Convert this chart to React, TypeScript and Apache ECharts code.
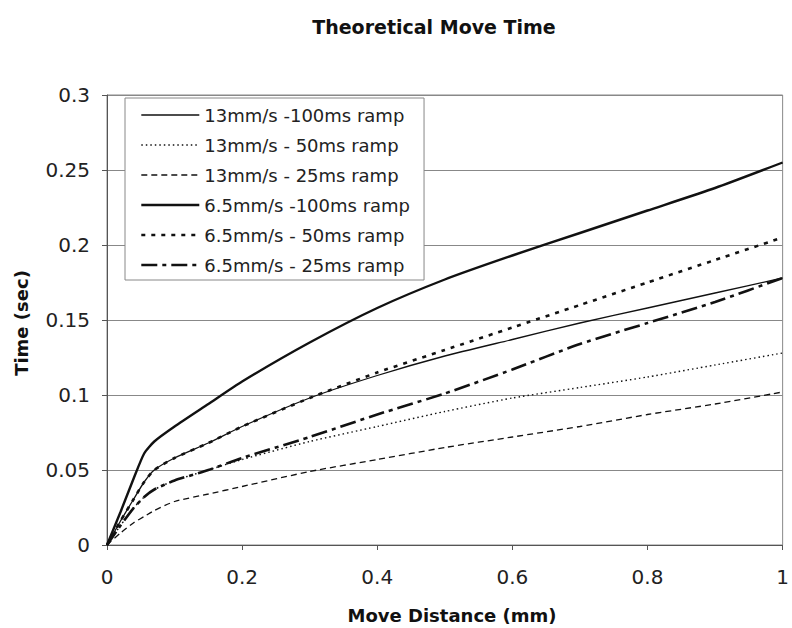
import React, { useEffect, useRef } from "react";
import * as echarts from "echarts";

// Move distance (mm)
const distance = [0, 0.02, 0.04, 0.055, 0.07, 0.1, 0.15, 0.2, 0.3, 0.4, 0.5, 0.6, 0.7, 0.8, 0.9, 1.0];

// Time (sec)
const t13_100 = [0, 0.016, 0.031, 0.042, 0.05, 0.058, 0.068, 0.079, 0.098, 0.113, 0.126, 0.137, 0.148, 0.158, 0.168, 0.178];
const t13_50 = [0, 0.013, 0.025, 0.032, 0.037, 0.043, 0.05, 0.057, 0.069, 0.079, 0.089, 0.098, 0.105, 0.112, 0.12, 0.128];
const t13_25 = [0, 0.008, 0.015, 0.019, 0.023, 0.029, 0.034, 0.039, 0.049, 0.057, 0.065, 0.072, 0.079, 0.087, 0.094, 0.102];
const t65_100 = [0, 0.022, 0.045, 0.061, 0.069, 0.079, 0.094, 0.109, 0.135, 0.158, 0.177, 0.193, 0.208, 0.223, 0.238, 0.255];
const t65_50 = [0, 0.016, 0.031, 0.042, 0.05, 0.058, 0.068, 0.079, 0.098, 0.115, 0.13, 0.145, 0.16, 0.175, 0.19, 0.205];
const t65_25 = [0, 0.013, 0.025, 0.032, 0.037, 0.043, 0.05, 0.058, 0.072, 0.087, 0.101, 0.117, 0.134, 0.148, 0.162, 0.178];

const seriesNames = [
  "13mm/s -100ms ramp",
  "13mm/s - 50ms ramp",
  "13mm/s - 25ms ramp",
  "6.5mm/s -100ms ramp",
  "6.5mm/s - 50ms ramp",
  "6.5mm/s - 25ms ramp",
];

const titleText = "Theoretical Move Time";
const xTitle = "Move Distance (mm)";
const yTitle = "Time (sec)";

const pair = (ys: number[]) => distance.map((x, i) => [x, ys[i]]);

export default function App() {
  const ref = useRef<HTMLDivElement>(null);
  useEffect(() => {
    const chart = echarts.init(ref.current!, null, { renderer: "svg" });
    const font = "DejaVu Sans";
    const styles: any[] = [
      { width: 1.3, type: "solid" },
      { width: 1.4, type: [1.5, 3] },
      { width: 1.3, type: [6, 4] },
      { width: 2.4, type: "solid" },
      { width: 2.6, type: [4, 6] },
      { width: 2.6, type: [16, 5, 4, 5] },
    ];
    const dataSets = [t13_100, t13_50, t13_25, t65_100, t65_50, t65_25];
    chart.setOption({
      animation: false,
      backgroundColor: "#fff",
      grid: {
        left: 107,
        right: 3,
        top: 95,
        bottom: 83,
        show: true,
        borderColor: "#888",
        borderWidth: 1,
        backgroundColor: "transparent",
      },
      xAxis: {
        type: "value",
        min: 0,
        max: 1,
        interval: 0.2,
        axisLine: { show: true, onZero: false, lineStyle: { color: "#555", width: 1 } },
        axisTick: { show: true, length: 5, lineStyle: { color: "#555" } },
        axisLabel: { fontFamily: font, fontSize: 20, color: "#222", margin: 22 },
        splitLine: { show: false },
      },
      yAxis: {
        type: "value",
        min: 0,
        max: 0.3,
        interval: 0.05,
        axisLine: { show: true, onZero: false, lineStyle: { color: "#555", width: 1 } },
        axisTick: { show: true, length: 5, lineStyle: { color: "#555" } },
        axisLabel: { fontFamily: font, fontSize: 20, color: "#222", margin: 17 },
        splitLine: { show: true, lineStyle: { color: "#888", width: 1 } },
      },
      legend: {
        data: seriesNames.map((name, i) => ({
          name,
          lineStyle: { width: styles[i].width },
        })),
        orient: "vertical",
        left: 125,
        top: 98,
        itemWidth: 58,
        itemHeight: 14,
        itemGap: 12,
        padding: [8, 14, 6, 15],
        borderColor: "#888",
        borderWidth: 1,
        backgroundColor: "#fff",
        itemStyle: { color: "transparent", borderColor: "transparent", borderWidth: 0, opacity: 0 },
        textStyle: { fontFamily: font, fontSize: 18, color: "#222" },
      },
      series: seriesNames.map((name, i) => ({
        name,
        type: "line",
        data: pair(dataSets[i]),
        symbol: "none",
        showSymbol: false,
        smooth: 0.2,
        lineStyle: { color: "#111", ...styles[i] },
        itemStyle: { color: "#111" },
      })),
      graphic: [
        {
          type: "text",
          x: 434,
          y: 27,
          style: {
            text: titleText,
            fontFamily: font,
            fontSize: 19,
            fontWeight: "bold",
            fill: "#111",
            align: "center",
            verticalAlign: "middle",
            textAlign: "center",
            textVerticalAlign: "middle",
          },
        },
        {
          type: "text",
          x: 452,
          y: 615,
          style: {
            text: xTitle,
            fontFamily: font,
            fontSize: 18,
            fontWeight: "bold",
            fill: "#111",
            align: "center",
            verticalAlign: "middle",
            textAlign: "center",
            textVerticalAlign: "middle",
          },
        },
        {
          type: "text",
          x: 21,
          y: 323,
          rotation: Math.PI / 2,
          style: {
            text: yTitle,
            fontFamily: font,
            fontSize: 18,
            fontWeight: "bold",
            fill: "#111",
            align: "center",
            verticalAlign: "middle",
            textAlign: "center",
            textVerticalAlign: "middle",
          },
        },
      ],
    });
    return () => chart.dispose();
  }, []);
  return (
    <div
      ref={ref}
      style={{ position: "fixed", left: 0, top: 0, width: 792, height: 628, background: "#fff" }}
    />
  );
}
